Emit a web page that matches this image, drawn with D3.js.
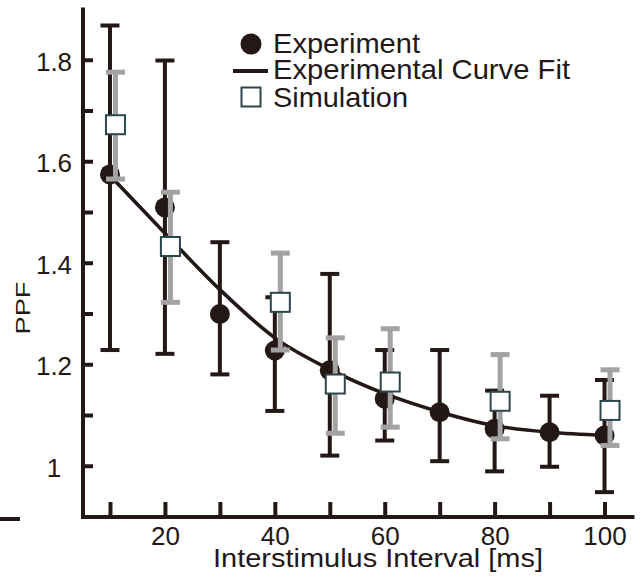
<!DOCTYPE html>
<html>
<head>
<meta charset="utf-8">
<script src="https://cdn.jsdelivr.net/npm/d3@7/dist/d3.min.js"></script>
<style>
  html, body { margin: 0; padding: 0; background: #fff; }
  svg { display: block; }
  text { font-family: "Liberation Sans", Arial, Helvetica, sans-serif; fill: #231815; }
</style>
</head>
<body>
<svg id="chart" width="641" height="588"></svg>
<script>
// Paired-pulse facilitation vs. interstimulus interval
const expX  = [10, 20, 30, 40, 50, 60, 70, 80, 90, 100];
const expY  = [1.574, 1.509, 1.299, 1.227, 1.188, 1.132, 1.1055, 1.0727, 1.066, 1.0596];
const expHi = [1.8675, 1.7985, 1.4405, 1.332, 1.378, 1.228, 1.228, 1.148, 1.138, 1.169];
const expLo = [1.228, 1.2205, 1.18, 1.108, 1.020, 1.0497, 1.009, 0.989, 0.998, 0.948];

const simX  = [11, 21, 41, 51, 61, 81, 101];
const simY  = [1.672, 1.432, 1.322, 1.161, 1.165, 1.127, 1.109];
const simHi = [1.7755, 1.539, 1.419, 1.252, 1.27, 1.219, 1.189];
const simLo = [1.565, 1.322, 1.228, 1.064, 1.076, 1.053, 1.040];

const fitX = [10, 20, 30, 40, 50, 60, 70, 80, 90, 100];
const fitY = [1.572, 1.458, 1.347, 1.252, 1.19, 1.142, 1.106, 1.079, 1.066, 1.060];

const xTicks  = [10, 20, 30, 40, 50, 60, 70, 80, 90, 100];
const xLabels = [20, 40, 60, 80, 100];
const yTicks  = [1.0, 1.1, 1.2, 1.3, 1.4, 1.5, 1.6, 1.7, 1.8];
const yLabels = [1.0, 1.2, 1.4, 1.6, 1.8];

const legendNames = ["Experiment", "Experimental Curve Fit", "Simulation"];
const xTitle = "Interstimulus Interval [ms]";
const yTitle = "PPF";

const INK = "#231815";
const GREY = "#a3a3a3";
const SQ_STROKE = "#2c474a";

const svg = d3.select("#chart");

const x = d3.scaleLinear().domain([5, 105]).range([82.5, 632]);
const y = d3.scaleLinear().domain([0.9, 1.9]).range([516.5, 9]);

// small stray rule at lower left
svg.append("line")
  .attr("x1", 0).attr("x2", 20).attr("y1", 519).attr("y2", 519)
  .attr("stroke", INK).attr("stroke-width", 4);

// axes
const fmtY = v => yLabels.some(l => Math.abs(l - v) < 1e-9) ? d3.format("~g")(v) : "";
const fmtX = v => xLabels.includes(v) ? String(v) : "";

const gy = svg.append("g").attr("transform", "translate(82.5,0)")
  .call(d3.axisLeft(y).tickValues(yTicks).tickFormat(fmtY)
    .tickSizeInner(-10.5).tickSizeOuter(0).tickPadding(0));
const gx = svg.append("g").attr("transform", "translate(0,516.5)")
  .call(d3.axisBottom(x).tickValues(xTicks).tickFormat(fmtX)
    .tickSizeInner(-14.5).tickSizeOuter(0).tickPadding(0));

[gy, gx].forEach(g => {
  g.select(".domain").attr("stroke", INK).attr("stroke-width", 4)
    .attr("stroke-linecap", "square");
  g.selectAll(".tick line").attr("stroke", INK).attr("stroke-width", 4);
  g.selectAll(".tick text").attr("font-size", 26)
    .attr("font-family", "'Liberation Sans', Arial, sans-serif")
    .attr("fill", INK);
});
gy.selectAll(".tick text").attr("text-anchor", "middle").attr("x", -28.5)
  .attr("dy", null).attr("y", 10.5);
gx.selectAll(".tick text").attr("text-anchor", "middle").attr("dy", null).attr("y", 28.5);

// axis titles
svg.append("text")
  .attr("x", 213).attr("y", 566.5)
  .attr("font-size", 25)
  .attr("textLength", 330).attr("lengthAdjust", "spacingAndGlyphs")
  .text(xTitle);
svg.append("text")
  .attr("transform", "translate(30,308) rotate(-90)")
  .attr("text-anchor", "middle")
  .attr("font-size", 21)
  .attr("textLength", 53).attr("lengthAdjust", "spacingAndGlyphs")
  .text(yTitle);

const exp = expX.map((d, i) => ({x: d, y: expY[i], hi: expHi[i], lo: expLo[i]}));
const sim = simX.map((d, i) => ({x: d, y: simY[i], hi: simHi[i], lo: simLo[i]}));
const fit = fitX.map((d, i) => ({x: d, y: fitY[i]}));

function errorBars(data, color, w, cap) {
  const g = svg.append("g").attr("stroke", color).attr("stroke-width", w);
  g.selectAll("line.v").data(data).join("line").attr("class", "v")
    .attr("x1", d => x(d.x)).attr("x2", d => x(d.x))
    .attr("y1", d => y(d.hi)).attr("y2", d => y(d.lo));
  g.selectAll("line.t").data(data).join("line").attr("class", "t")
    .attr("x1", d => x(d.x) - cap / 2).attr("x2", d => x(d.x) + cap / 2)
    .attr("y1", d => y(d.hi)).attr("y2", d => y(d.hi));
  g.selectAll("line.b").data(data).join("line").attr("class", "b")
    .attr("x1", d => x(d.x) - cap / 2).attr("x2", d => x(d.x) + cap / 2)
    .attr("y1", d => y(d.lo)).attr("y2", d => y(d.lo));
}

// experiment: error bars and markers
errorBars(exp, INK, 4, 19);
svg.append("g").selectAll("circle").data(exp).join("circle")
  .attr("cx", d => x(d.x)).attr("cy", d => y(d.y)).attr("r", 10)
  .attr("fill", INK);

// curve fit
svg.append("path").datum(fit)
  .attr("fill", "none").attr("stroke", INK).attr("stroke-width", 3.6)
  .attr("d", d3.line().x(d => x(d.x)).y(d => y(d.y)).curve(d3.curveMonotoneX));

// simulation: error bars and markers
errorBars(sim, GREY, 5, 19);
svg.append("g").selectAll("rect").data(sim).join("rect")
  .attr("x", d => x(d.x) - 9.5).attr("y", d => y(d.y) - 9.5)
  .attr("width", 19).attr("height", 19)
  .attr("fill", "#fff").attr("stroke", SQ_STROKE).attr("stroke-width", 2);

// legend
const lg = svg.append("g");
lg.append("circle").attr("cx", 251).attr("cy", 44).attr("r", 10.5).attr("fill", INK);
lg.append("line").attr("x1", 233).attr("x2", 268).attr("y1", 71).attr("y2", 71)
  .attr("stroke", INK).attr("stroke-width", 4);
lg.append("rect").attr("x", 241.5).attr("y", 87.5).attr("width", 19).attr("height", 19)
  .attr("fill", "#fff").attr("stroke", SQ_STROKE).attr("stroke-width", 2);
const legendBase = [53, 79, 106.5];
const legendLen = [147, 297, 135];
legendNames.forEach((name, i) => {
  lg.append("text").attr("x", 273).attr("y", legendBase[i])
    .attr("font-size", 28)
    .attr("textLength", legendLen[i]).attr("lengthAdjust", "spacingAndGlyphs")
    .text(name);
});
</script>
</body>
</html>
